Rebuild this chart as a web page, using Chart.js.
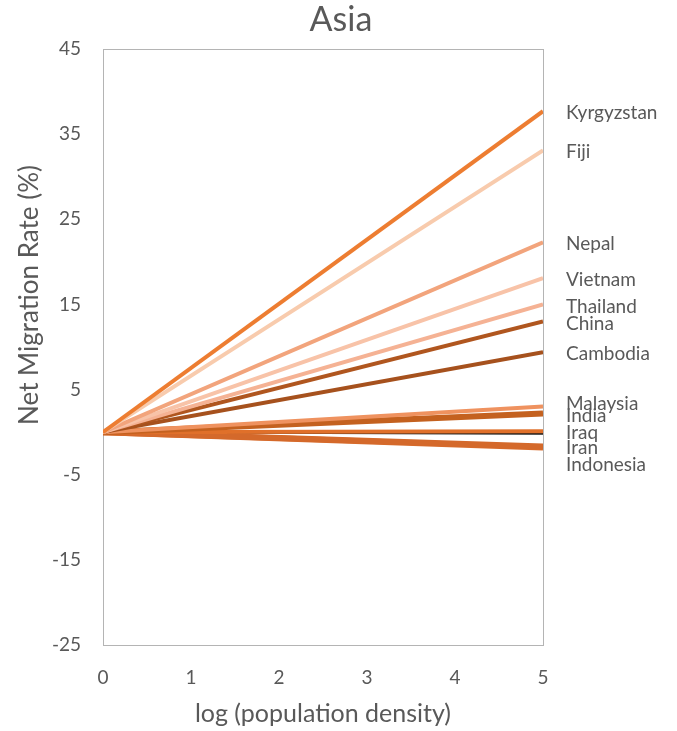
<!DOCTYPE html>
<html>
<head>
<meta charset="utf-8">
<script src="https://cdn.jsdelivr.net/npm/chart.js@4"></script>
<style>
  html, body { margin: 0; padding: 0; background: #fff; }
  #wrap { width: 677px; height: 731px; }
</style>
</head>
<body>
<div id="wrap"><canvas id="asiaChart"></canvas></div>
<script>
// Data: every line runs from (0, 0) to (5, value)
const countries = ["Kyrgyzstan", "Fiji", "Nepal", "Vietnam", "Thailand", "China", "Cambodia",
                   "Malaysia", "India", "Iraq", "", "Iran", "Indonesia"];
const endValues = [37.7, 33.1, 22.3, 18.1, 15.0, 13.0, 9.4, 3.0, 2.2, 0.1, -0.2, -1.7, -1.8];
const xStart = 0;
const xEnd = 5;
const xTicks = [0, 1, 2, 3, 4, 5];
const yTicks = [-25, -15, -5, 5, 15, 25, 35, 45];

const lineColors = ["#ED7D31", "#F8CBAD", "#F2A47C", "#F8C3A8", "#F5B294", "#B0561F", "#A6511D",
                    "#EF925F", "#C4611F", "#E0702A", "#1a1a1a", "#D4692B", "#D86C2C"];
const lineWidths = [4, 4, 4, 4, 4, 4, 4, 4, 6, 4, 2, 6, 6];
// small manual nudges so crowded labels don't overlap (pixels)
const labelNudge = { Malaysia: -3, India: 2, Iraq: 2, Iran: 1, Indonesia: 17 };

const textColor = "#595959";
const fontFamily = "Lato, 'Open Sans', sans-serif";

const datasets = countries.map((name, i) => ({
  label: name,
  data: [{ x: xStart, y: 0 }, { x: xEnd, y: endValues[i] }],
  borderColor: lineColors[i],
  backgroundColor: lineColors[i],
  borderWidth: lineWidths[i],
  pointRadius: 0,
  fill: false,
  tension: 0
}));

// Title, box round the plot area, axis titles and end labels
const decorPlugin = {
  id: "decor",
  beforeDatasetsDraw(chart) {
    const { ctx, chartArea: a } = chart;
    ctx.save();
    ctx.strokeStyle = "#B4B4B4";
    ctx.lineWidth = 1;
    ctx.strokeRect(a.left + 0.5, a.top + 0.5, a.right - a.left, a.bottom - a.top);
    ctx.restore();
  },
  afterDraw(chart) {
    const { ctx, chartArea: a, scales } = chart;
    ctx.save();
    ctx.fillStyle = textColor;
    ctx.textAlign = "center";
    ctx.textBaseline = "middle";
    ctx.font = "34px " + fontFamily;
    ctx.fillText("Asia", 341, 20);
    ctx.font = "25px " + fontFamily;
    ctx.fillText("log (population density)", (a.left + a.right) / 2, 714);
    ctx.translate(30, 295);
    ctx.rotate(-Math.PI / 2);
    ctx.font = "26px " + fontFamily;
    ctx.fillText("Net Migration Rate (%)", 0, 0);
    ctx.restore();

    ctx.save();
    ctx.fillStyle = textColor;
    ctx.font = "19px " + fontFamily;
    ctx.textAlign = "left";
    ctx.textBaseline = "middle";
    countries.forEach((name, i) => {
      if (!name) return;
      const nudge = name in labelNudge ? labelNudge[name] : 2;
      const y = scales.y.getPixelForValue(endValues[i]) + nudge;
      ctx.fillText(name, a.right + 23, y);
    });
    ctx.restore();
  }
};

new Chart(document.getElementById("asiaChart"), {
  type: "line",
  data: { datasets: datasets },
  options: {
    responsive: true,
    maintainAspectRatio: false,
    animation: false,
    layout: { padding: { left: 0, right: 134, top: 49, bottom: 0 } },
    plugins: {
      legend: { display: false },
      tooltip: { enabled: false },
      title: { display: false }
    },
    scales: {
      x: {
        type: "linear",
        min: 0,
        max: 5,
        afterBuildTicks: (s) => { s.ticks = xTicks.map(v => ({ value: v })); },
        afterFit: (s) => { s.height = 86; },
        grid: { display: false },
        border: { display: false },
        ticks: { color: textColor, font: { family: fontFamily, size: 19 }, padding: 13 }
      },
      y: {
        min: -25,
        max: 45,
        afterBuildTicks: (s) => { s.ticks = yTicks.map(v => ({ value: v })); },
        afterFit: (s) => { s.width = 103; },
        grid: { display: false },
        border: { display: false },
        ticks: { color: textColor, font: { family: fontFamily, size: 19 }, padding: 14 }
      }
    }
  },
  plugins: [decorPlugin]
});
</script>
</body>
</html>
